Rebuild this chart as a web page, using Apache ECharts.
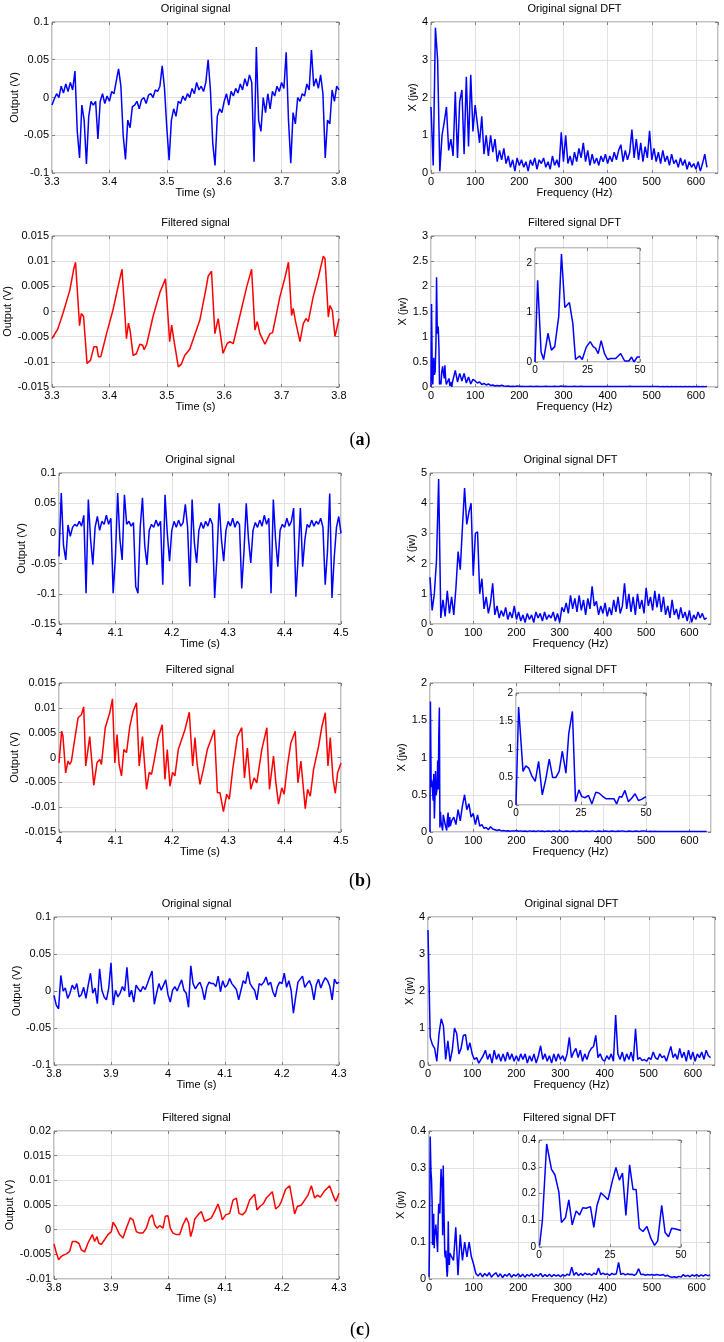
<!DOCTYPE html>
<html>
<head>
<meta charset="utf-8">
<title>Original and filtered signals with DFT</title>
<script src="https://cdn.jsdelivr.net/npm/echarts@6/dist/echarts.min.js"></script>
<style>
html, body { margin: 0; padding: 0; background: #fff; }
#chart { width: 724px; height: 1342px; }
</style>
</head>
<body>
<div id="chart"></div>
<script>
// ---------------- data ----------------
// raw signals: one value every 0.004 s from the first time tick
const sigStep = 0.004;
const tStartA = 3.3, tStartB = 4.0, tStartC = 3.8;

const origA = [
  -0.010,-0.002,0.005,0.000,0.015,0.006,0.018,0.008,0.020,0.010,
  0.035,-0.045,-0.080,-0.010,-0.030,-0.088,-0.025,-0.005,-0.010,-0.005,
  -0.055,-0.005,0.005,-0.008,0.002,-0.005,0.008,0.005,0.022,0.038,
  0.015,-0.050,-0.082,-0.030,-0.040,-0.012,-0.010,-0.005,-0.015,-0.003,
  0.000,-0.008,0.003,0.005,0.000,0.010,0.008,0.015,0.042,0.012,
  -0.040,-0.083,-0.030,-0.015,-0.025,-0.005,-0.008,0.002,-0.004,0.005,
  0.000,0.012,0.005,0.020,0.010,0.015,0.008,0.020,0.050,0.010,
  -0.060,-0.090,-0.025,-0.015,-0.020,-0.005,0.005,-0.010,0.008,0.002,
  0.012,0.006,0.018,0.010,0.025,0.015,0.030,0.020,-0.085,0.067,
  -0.030,-0.045,0.000,-0.020,0.005,-0.015,0.008,0.002,0.015,0.008,
  0.020,0.012,0.060,-0.030,-0.087,-0.020,-0.035,0.000,-0.005,0.005,
  0.002,0.018,0.010,0.063,0.015,0.025,0.012,0.030,0.005,-0.080,
  -0.030,-0.035,0.010,-0.005,0.015,0.010
];

const origB = [
  -0.038,0.067,-0.020,-0.044,0.014,-0.005,0.010,0.015,0.012,0.020,
  0.012,0.030,-0.099,0.056,-0.010,-0.052,0.010,0.028,0.005,0.020,
  0.015,0.030,0.015,0.025,-0.099,-0.040,0.067,-0.010,-0.044,0.064,
  0.015,0.020,0.012,0.018,-0.088,-0.099,0.010,0.059,-0.020,-0.052,
  0.005,0.015,0.010,0.022,0.012,0.020,-0.085,0.064,0.000,-0.046,
  0.005,0.020,0.010,0.022,0.012,0.018,0.048,0.010,-0.088,0.056,
  -0.015,-0.049,0.005,0.018,0.008,0.020,0.012,0.025,0.015,-0.107,
  -0.040,0.050,-0.010,-0.046,0.005,0.020,0.012,0.025,0.010,0.020,
  0.015,-0.091,-0.030,0.050,-0.010,-0.049,0.005,0.018,0.010,0.022,
  0.012,0.030,0.015,0.025,-0.099,0.056,-0.010,-0.055,0.005,0.015,
  0.010,0.025,0.012,0.020,0.042,-0.105,-0.040,0.042,-0.055,-0.010,
  0.015,0.010,0.022,0.012,0.020,0.015,0.025,0.010,-0.085,-0.030,
  0.066,-0.107,-0.040,0.010,0.028,0.000
];

const origC = [
  -0.006,-0.019,-0.024,0.021,0.000,0.004,-0.010,-0.003,0.008,0.002,
  0.010,-0.008,-0.005,0.005,-0.010,0.008,0.024,-0.003,0.004,-0.017,
  0.030,0.001,-0.008,-0.012,0.004,0.038,-0.019,0.001,-0.008,-0.003,
  0.006,0.000,0.032,-0.008,0.001,-0.015,0.008,0.003,-0.001,0.006,
  0.002,0.010,0.019,0.027,-0.018,-0.003,0.010,0.001,0.008,0.015,
  -0.005,-0.015,0.001,0.006,0.000,0.008,0.015,0.001,-0.003,-0.022,
  0.034,0.010,0.003,0.008,0.012,0.003,-0.012,0.005,0.012,0.010,
  0.010,0.006,0.020,-0.001,0.014,0.005,0.008,0.017,0.010,0.006,
  0.002,-0.012,0.001,0.014,0.010,0.026,0.010,0.005,0.001,-0.012,
  0.010,0.008,0.012,0.019,0.008,0.012,-0.001,-0.008,0.006,0.012,
  0.010,0.024,0.005,0.014,0.001,-0.030,-0.008,0.012,0.016,0.020,
  0.005,0.010,0.014,0.006,-0.012,0.008,0.016,0.004,0.012,0.018,
  0.014,0.006,-0.012,0.016,0.010,0.012
];

// filtered signals: [time s, output V]
const filtA = [
  [3.300,-0.0054],[3.310,-0.0035],[3.319,-0.0004],[3.331,0.0042],[3.338,0.0085],[3.341,0.0098],[3.343,0.0096],
  [3.348,-0.0028],[3.351,-0.0004],[3.355,-0.001],[3.361,-0.0103],[3.367,-0.0097],[3.373,-0.007],[3.378,-0.007],
  [3.381,-0.009],[3.385,-0.009],[3.395,-0.0044],[3.406,0.0002],[3.415,0.0049],[3.422,0.0084],[3.425,0.0082],
  [3.4297,-0.0054],[3.4332,-0.0023],[3.436,-0.0037],[3.4413,-0.0087],[3.447,-0.0084],[3.453,-0.0065],[3.458,-0.0067],
  [3.4605,-0.0076],[3.465,-0.0065],[3.476,-0.001],[3.488,0.0038],[3.4977,0.0065],[3.4995,0.0062],[3.505,-0.006],
  [3.5085,-0.0027],[3.512,-0.0054],[3.520,-0.011],[3.5256,-0.0104],[3.5314,-0.0087],[3.540,-0.0075],[3.5576,-0.0017],
  [3.569,0.005],[3.572,0.007],[3.5779,0.008],[3.5837,-0.0044],[3.5895,-0.0014],[3.5924,-0.0037],[3.598,-0.0083],
  [3.605,-0.0064],[3.610,-0.006],[3.6157,-0.0064],[3.627,-0.001],[3.639,0.0048],[3.6477,0.0084],[3.6535,-0.0037],
  [3.6576,-0.002],[3.6622,-0.0044],[3.671,-0.0065],[3.6797,-0.0044],[3.6843,-0.0042],[3.697,0.0029],[3.706,0.0068],
  [3.712,0.0098],[3.7174,-0.0008],[3.7203,0.0006],[3.7238,-0.0017],[3.732,-0.006],[3.7378,-0.0024],[3.7424,-0.0014],
  [3.7465,-0.002],[3.755,0.0029],[3.764,0.0068],[3.7727,0.011],[3.7756,0.0105],[3.7814,-0.0011],[3.7843,0.0012],
  [3.7884,0.0002],[3.793,-0.005],[3.800,-0.0014]
];

const filtB = [
  [4.000,-0.0011],[4.0047,0.0053],[4.007,0.0043],[4.0118,-0.0031],[4.016,-0.0007],[4.019,-0.0014],[4.022,-0.0008],
  [4.026,0.0023],[4.0338,0.008],[4.0397,0.0086],[4.0438,0.0102],[4.0474,-0.0017],[4.0545,0.0042],[4.0616,-0.0056],
  [4.0675,-0.001],[4.0723,-0.0004],[4.0752,-0.0014],[4.082,0.006],[4.09,0.009],[4.0948,0.0118],[4.099,-0.0011],
  [4.103,0.0046],[4.1066,-0.0014],[4.1108,-0.0037],[4.115,0.0016],[4.1197,0.001],[4.1256,0.0063],[4.1315,0.0093],
  [4.1374,0.011],[4.1422,-0.0017],[4.148,0.0042],[4.1552,-0.0064],[4.16,-0.003],[4.164,-0.0034],[4.168,-0.0011],
  [4.176,0.004],[4.183,0.0066],[4.1878,-0.0044],[4.192,0.0016],[4.1967,-0.0058],[4.2014,-0.003],[4.2055,-0.0037],
  [4.2115,0.0016],[4.2233,0.0056],[4.231,0.0091],[4.237,-0.0017],[4.2411,0.004],[4.245,-0.0014],[4.25,-0.0054],
  [4.256,-0.0024],[4.263,0.0016],[4.2707,0.004],[4.2755,0.0056],[4.2808,-0.0071],[4.2855,-0.0071],[4.2915,-0.0109],
  [4.2974,-0.0074],[4.302,-0.0084],[4.308,-0.0024],[4.3163,0.0042],[4.324,0.006],[4.3288,-0.0041],[4.334,0.0019],
  [4.34,-0.0064],[4.346,-0.0041],[4.3507,-0.0051],[4.3596,0.0016],[4.3685,0.006],[4.3732,-0.0064],[4.3803,0.0003],
  [4.3845,-0.005],[4.3892,-0.0094],[4.395,-0.0061],[4.3992,-0.0074],[4.405,-0.0017],[4.411,0.0029],[4.4188,0.0053],
  [4.4236,-0.0051],[4.4289,-0.0007],[4.4366,-0.0103],[4.4408,-0.0064],[4.4455,-0.0078],[4.4514,-0.0024],[4.4603,0.0023],
  [4.4662,0.0063],[4.4721,0.009],[4.4769,-0.0017],[4.481,0.004],[4.4858,-0.0043],[4.4899,-0.0072],[4.4941,-0.003],
  [4.497,-0.0027],[4.5,-0.0011]
];

const filtC = [
  [3.800,-0.0029],[3.8041,-0.0047],[3.8082,-0.0061],[3.8129,-0.0054],[3.8175,-0.0051],[3.822,-0.0049],[3.8275,-0.0044],
  [3.8322,-0.0024],[3.838,-0.0024],[3.8439,-0.0028],[3.848,-0.0041],[3.8538,-0.0045],[3.8596,-0.0027],[3.8673,-0.001],
  [3.8713,-0.0024],[3.8754,-0.0014],[3.8784,-0.0027],[3.883,-0.003],[3.8889,-0.002],[3.8947,-0.001],[3.9006,-0.0004],
  [3.9035,0.0015],[3.9082,0.0007],[3.9152,-0.001],[3.921,-0.0017],[3.9269,0.0003],[3.9339,0.0024],[3.9386,0.002],
  [3.9444,-0.0004],[3.9503,-0.0007],[3.956,-0.0007],[3.962,0.0003],[3.9678,0.0024],[3.9725,0.003],[3.9766,0.001],
  [3.9807,0.0003],[3.9854,0.0008],[3.9912,0.0003],[3.9953,0.0027],[4.000,0.0028],[4.004,0.0003],[4.0088,-0.0007],
  [4.0146,-0.001],[4.0205,-0.001],[4.0263,0.001],[4.0322,0.0024],[4.0363,0.0013],[4.0398,-0.0014],[4.0439,0.0003],
  [4.0468,0.0021],[4.0526,0.003],[4.0585,0.0037],[4.0643,0.0017],[4.0702,0.002],[4.076,0.0024],[4.0819,0.0037],
  [4.0877,0.0052],[4.0918,0.0037],[4.0953,0.002],[4.1012,0.003],[4.1082,0.0033],[4.114,0.006],[4.1199,0.0064],
  [4.1246,0.0033],[4.1304,0.003],[4.1363,0.0037],[4.1433,0.006],[4.152,0.0072],[4.1561,0.004],[4.162,0.0048],
  [4.1667,0.0052],[4.1725,0.0064],[4.183,0.0077],[4.1889,0.0042],[4.1947,0.0048],[4.1988,0.0057],[4.2064,0.0082],
  [4.2135,0.0089],[4.2181,0.006],[4.2222,0.0032],[4.2269,0.0047],[4.2339,0.005],[4.2398,0.006],[4.2456,0.007],
  [4.2515,0.0089],[4.2573,0.0064],[4.262,0.007],[4.2673,0.0066],[4.2749,0.0079],[4.2836,0.0089],[4.2895,0.007],
  [4.2942,0.0057],[4.3,0.0074]
];

// spectra of the raw signals: one value every 5 Hz from 0 Hz
const freqStep = 5;
const dftOrigA = [
  1.75,0.2,3.85,3.0,0.05,1.0,1.35,1.75,0.6,0.9,
  0.45,2.15,0.4,1.9,2.2,0.5,2.55,0.7,2.6,1.1,
  1.8,1.3,0.8,1.5,0.5,1.0,0.45,1.0,0.55,0.9,
  0.3,0.6,0.35,0.65,0.25,0.45,0.15,0.35,0.05,0.4,
  0.2,0.35,0.15,0.3,0.05,0.35,0.2,0.4,0.1,0.35,
  0.25,0.4,0.15,0.3,0.1,0.45,0.2,0.35,0.15,1.08,
  0.3,1.0,0.25,0.45,0.2,0.55,0.3,0.65,0.4,0.8,
  0.3,0.6,0.2,0.5,0.25,0.4,0.2,0.45,0.3,0.5,
  0.25,0.45,0.3,0.55,0.35,0.6,0.75,0.3,0.6,0.35,
  0.55,1.15,0.4,0.9,0.35,0.8,0.3,0.7,0.4,1.12,
  0.35,0.65,0.3,0.55,0.25,0.6,0.3,0.45,0.2,0.5,
  0.25,0.35,0.15,0.4,0.2,0.35,0.1,0.3,0.15,0.25,
  0.1,0.3,0.05,0.25,0.5,0.15
];
const dftOrigB = [
  1.55,0.45,1.0,2.1,4.8,0.2,0.8,0.25,1.1,0.35,
  0.9,0.3,1.2,2.4,1.8,3.2,4.5,3.3,3.7,4.0,
  1.6,3.0,3.05,1.0,1.5,0.5,0.9,0.35,0.7,1.35,
  0.3,0.6,0.2,0.45,0.25,0.55,0.15,0.4,0.2,0.6,
  0.15,0.4,0.1,0.3,0.05,0.35,0.15,0.3,0.05,0.4,
  0.2,0.35,0.1,0.4,0.15,0.3,0.2,0.4,0.1,0.35,
  0.05,0.55,0.4,0.7,0.35,0.95,0.5,0.85,0.4,0.95,
  0.45,0.8,0.3,0.85,0.5,1.25,0.6,0.75,0.3,0.6,
  0.35,0.7,0.25,0.55,0.3,0.8,0.4,0.9,0.35,0.6,
  1.35,0.5,1.0,0.4,0.9,0.3,1.0,0.5,0.8,0.35,
  1.2,0.6,0.9,0.45,1.1,0.55,1.0,0.4,0.9,0.3,
  0.6,0.2,0.8,0.3,0.5,0.15,0.55,0.2,0.4,0.1,
  0.45,0.05,0.3,0.15,0.4,0.2,0.35,0.15,0.2
];
const dftOrigC = [
  3.65,0.75,0.55,0.45,0.1,0.85,1.25,1.05,0.15,0.65,
  0.1,0.4,1.0,0.85,0.3,0.45,0.8,0.82,0.4,0.6,
  0.3,0.15,0.2,0.05,0.15,0.25,0.4,0.15,0.3,0.05,
  0.4,0.15,0.3,0.1,0.3,0.1,0.35,0.15,0.3,0.1,
  0.25,0.1,0.3,0.15,0.3,0.05,0.25,0.1,0.3,0.05,
  0.25,0.52,0.15,0.3,0.1,0.25,0.05,0.3,0.1,0.3,
  0.15,0.25,0.1,0.3,0.75,0.2,0.35,0.45,0.2,0.4,
  0.1,0.3,0.15,0.35,0.45,0.5,0.8,0.2,0.3,0.15,
  0.1,0.25,0.15,0.3,0.1,1.35,0.3,0.15,0.35,0.1,
  0.3,0.15,0.35,0.1,0.98,0.15,0.2,0.12,0.15,0.1,
  0.2,0.15,0.35,0.2,0.15,0.3,0.2,0.25,0.1,0.3,
  0.5,0.2,0.3,0.15,0.45,0.2,0.35,0.1,0.4,0.15,
  0.35,0.1,0.3,0.2,0.35,0.15,0.4,0.25,0.2
];

// spectra of the filtered signals, 0-50 Hz: [Hz, |X|]
const lowFiltA = [
  [0,0],[1.25,1.65],[2.9,0.2],[4.1,0.05],[6.2,0.58],[7.8,0.24],[9.4,0.31],[11.3,0.92],[12.6,2.18],[14.2,1.1],
  [15.1,1.06],[16.4,1.2],[18,0.78],[19.3,0.05],[21.2,0.12],[22.5,0.05],[24.4,0.3],[26.3,0.41],[27.7,0.31],
  [28.8,0.28],[30.1,0.17],[31.5,0.43],[33.1,0.17],[34.6,0.05],[36,0.07],[38.4,0.07],[40.8,0.17],[42.7,0.02],
  [44.7,0.02],[46,0.1],[47.1,0.0],[48.7,0.1],[50,0.1]
];
const lowFiltB = [
  [0,0],[1.0,1.75],[2.7,0.6],[3.8,0.7],[4.9,0.66],[6.1,0.52],[7.4,0.42],[8.7,0.78],[10.1,0.18],[11.4,0.45],
  [12.8,0.82],[14.1,0.49],[15.3,0.49],[16.6,0.6],[17.8,0.96],[19.2,0.57],[20.3,1.28],[21.7,1.67],[22.9,0.06],
  [24.2,0.27],[25.3,0.15],[26.6,0.13],[27.9,0.17],[29.2,0.02],[30.7,0.23],[32,0.21],[33.2,0.16],[34.7,0.11],
  [36.2,0.11],[37.7,0.11],[38.7,0.02],[39.8,0.15],[40.7,0.14],[41.9,0.26],[43.2,0.06],[44.5,0.12],[45.8,0.2],
  [47.1,0.08],[48.3,0.1],[50,0.15]
];
const lowFiltC = [
  [0.2,0.006],[1.2,0.1],[2.7,0.385],[4.4,0.29],[5.6,0.27],[7.0,0.205],[7.9,0.092],[9.3,0.109],[10.5,0.176],
  [11.7,0.083],[13.1,0.135],[14.3,0.12],[15.4,0.147],[16.6,0.145],[18.1,0.151],[19.3,0.073],[20.4,0.154],
  [21.8,0.203],[23.1,0.19],[24.3,0.177],[25.9,0.25],[27.1,0.297],[28.3,0.25],[29.4,0.276],[30.6,0.118],
  [31.9,0.307],[33.1,0.215],[34.2,0.215],[35.3,0.07],[36.6,0.058],[38,0.077],[39.4,0.032],[40.7,0.006],
  [41.8,0.023],[43.2,0.156],[44.4,0.054],[45.6,0.038],[46.7,0.07],[48.1,0.067],[50,0.062]
];

// the rest of those spectra: one value every 5 Hz from 55 Hz
const tailStart = 55;
const highFiltA = [
  0.33,0.1,0.27,0.12,0.27,0.08,0.2,0.06,0.15,0.12,
  0.08,0.1,0.05,0.07,0.04,0.06,0.03,0.04,0.02,0.03,
  0.02,0.035,0.02,0.015,0.02,0.01,0.015,0.01,0.02,0.01,
  0.015,0.01,0.012,0.008,0.015,0.01,0.012,0.015,0.01,0.012,
  0.008,0.015,0.01,0.012,0.008,0.015,0.01,0.012,0.02,0.01,
  0.015,0.008,0.012,0.01,0.015,0.008,0.012,0.015,0.01,0.012,
  0.008,0.01,0.012,0.008,0.01,0.012,0.008,0.01,0.012,0.008,
  0.01,0.012,0.008,0.01,0.012,0.01,0.008,0.012,0.01,0.015,
  0.01,0.012,0.008,0.01,0.012,0.008,0.01,0.008,0.012,0.008,
  0.01,0.008,0.01,0.006,0.008,0.006,0.008,0.006,0.008,0.006,
  0.008,0.006,0.008,0.006,0.008,0.006,0.008,0.006,0.008,0.006,
  0.008,0.006,0.008,0.006,0.008
];
const highFiltB = [
  0.2,0.1,0.3,0.15,0.35,0.5,0.3,0.38,0.2,0.25,
  0.1,0.23,0.08,0.1,0.05,0.06,0.03,0.07,0.04,0.03,
  0.02,0.03,0.015,0.02,0.012,0.018,0.01,0.015,0.012,0.02,
  0.01,0.015,0.01,0.012,0.008,0.015,0.01,0.012,0.008,0.015,
  0.01,0.012,0.008,0.01,0.012,0.008,0.012,0.01,0.008,0.015,
  0.01,0.008,0.012,0.01,0.008,0.012,0.01,0.008,0.012,0.01,
  0.008,0.012,0.01,0.008,0.015,0.01,0.008,0.012,0.01,0.008,
  0.012,0.01,0.008,0.012,0.01,0.008,0.012,0.01,0.015,0.01,
  0.008,0.012,0.01,0.008,0.012,0.01,0.008,0.012,0.015,0.01,
  0.008,0.01,0.008,0.01,0.006,0.008,0.006,0.008,0.006,0.008,
  0.006,0.008,0.006,0.008,0.006,0.008,0.006,0.008,0.006,0.008,
  0.006,0.008,0.006,0.008,0.006,0.008,0.006,0.008
];
const highFiltC = [
  0.05,0.14,0.01,0.12,0.05,0.1,0.06,0.1,0.06,0.04,
  0.015,0.008,0.016,0.006,0.015,0.008,0.017,0.005,0.012,0.017,
  0.006,0.014,0.004,0.012,0.008,0.015,0.005,0.012,0.008,0.014,
  0.006,0.013,0.005,0.012,0.008,0.014,0.006,0.012,0.008,0.015,
  0.006,0.012,0.007,0.013,0.006,0.012,0.008,0.011,0.006,0.012,
  0.008,0.013,0.01,0.032,0.01,0.018,0.009,0.015,0.01,0.016,
  0.012,0.014,0.01,0.016,0.012,0.03,0.012,0.016,0.012,0.014,
  0.01,0.015,0.012,0.014,0.045,0.012,0.015,0.011,0.014,0.012,
  0.013,0.01,0.014,0.028,0.012,0.013,0.01,0.012,0.011,0.012,
  0.01,0.012,0.011,0.01,0.012,0.008,0.01,0.006,0.005,0.006,
  0.004,0.007,0.005,0.012,0.007,0.01,0.006,0.011,0.008,0.012,
  0.007,0.011,0.008,0.012,0.009,0.011
];

// ---------------- drawing ----------------
const FONT = '"Liberation Sans", Arial, Helvetica, sans-serif';
const SERIF = '"Liberation Serif", "DejaVu Serif", serif';
const BOX = '#808080';
const GRID_LINE = '#e2e2e2';
const BLUE = '#0000ff';
const RED = '#ff0000';

function onSteps(start, step, vals) {
  return vals.map((v, i) => [+(start + i * step).toFixed(4), v]);
}

let grids = [], xAxes = [], yAxes = [], series = [], texts = [];

function addPanel(p) {
  const k = grids.length;
  const z = p.inset ? 6 : 0;
  const fs = p.inset ? 10 : 11;
  grids.push({
    left: p.box[0], top: p.box[1], width: p.box[2], height: p.box[3],
    show: true, backgroundColor: '#fff', borderColor: BOX, borderWidth: 1, z: z
  });
  const base = {
    gridIndex: k, type: 'value', z: z,
    axisLine: { show: false, onZero: false },
    axisTick: { show: true, inside: true, length: 3, lineStyle: { color: BOX } },
    splitLine: { show: true, lineStyle: { color: GRID_LINE, width: 1 } },
    nameLocation: 'middle',
    nameTextStyle: { fontFamily: FONT, fontSize: 11, color: '#000' }
  };
  // ticks only, on the top and right edges (box style)
  const mirror = {
    gridIndex: k, type: 'value', z: z,
    axisLine: { show: false, onZero: false },
    axisTick: { show: true, inside: true, length: 3, lineStyle: { color: BOX } },
    axisLabel: { show: false },
    splitLine: { show: false }
  };
  const xi = xAxes.length, yi = yAxes.length;
  xAxes.push(Object.assign({}, base, {
    min: p.x[0], max: p.x[1], interval: p.x[2], position: 'bottom',
    name: p.xName || '', nameGap: 14,
    axisLabel: { margin: 3, fontFamily: FONT, fontSize: fs, color: '#000', showMaxLabel: !p.xCut }
  }));
  xAxes.push(Object.assign({}, mirror, { min: p.x[0], max: p.x[1], interval: p.x[2], position: 'top' }));
  yAxes.push(Object.assign({}, base, {
    min: p.y[0], max: p.y[1], interval: p.y[2], position: 'left',
    name: p.yName || '', nameGap: p.yGap || 0,
    axisLabel: { margin: 3, fontFamily: FONT, fontSize: fs, color: '#000', showMaxLabel: !p.yCut }
  }));
  yAxes.push(Object.assign({}, mirror, { min: p.y[0], max: p.y[1], interval: p.y[2], position: 'right' }));
  series.push({
    type: 'line', xAxisIndex: xi, yAxisIndex: yi, data: p.data,
    symbol: 'none', silent: true, animation: false, z: z + 2,
    lineStyle: { color: p.color, width: 1.5 }, itemStyle: { color: p.color }
  });
  if (p.title) {
    texts.push({
      type: 'text', x: p.box[0] + p.box[2] / 2, y: p.box[1] - 13,
      style: { text: p.title, fontFamily: FONT, fontSize: 11, fill: '#000',
               align: 'center', verticalAlign: 'middle', textAlign: 'center', textVerticalAlign: 'middle' }
    });
  }
}

function addLetter(letter, x, y) {
  texts.push({
    type: 'text', x: x, y: y,
    style: {
      text: '{p|(}{b|' + letter + '}{p|)}',
      rich: {
        p: { fontFamily: SERIF, fontSize: 18, fill: '#000' },
        b: { fontFamily: SERIF, fontSize: 18, fontWeight: 'bold', fill: '#000' }
      },
      align: 'center', verticalAlign: 'middle', textAlign: 'center', textVerticalAlign: 'middle'
    }
  });
}

// (a)
addPanel({ box: [52, 22, 287, 151], x: [3.3, 3.8, 0.1], y: [-0.1, 0.1, 0.05], xName: 'Time (s)', yName: 'Output (V)', yGap: 31,
  color: BLUE, title: 'Original signal', data: onSteps(tStartA, sigStep, origA) });
addPanel({ box: [431, 22, 287, 151], x: [0, 650, 100], xCut: true, y: [0, 4, 1], xName: 'Frequency (Hz)', yName: 'X (jw)', yGap: 11,
  color: BLUE, title: 'Original signal DFT', data: onSteps(0, freqStep, dftOrigA) });
addPanel({ box: [52, 236, 287, 151], x: [3.3, 3.8, 0.1], y: [-0.015, 0.015, 0.005], xName: 'Time (s)', yName: 'Output (V)', yGap: 36,
  color: RED, title: 'Filtered signal', data: filtA });
addPanel({ box: [431, 236, 287, 151], x: [0, 650, 100], xCut: true, y: [0, 3, 0.5], xName: 'Frequency (Hz)', yName: 'X (jw)', yGap: 20,
  color: BLUE, title: 'Filtered signal DFT', data: lowFiltA.concat(onSteps(tailStart, freqStep, highFiltA)) });
addPanel({ box: [535, 248, 105, 114], inset: true, x: [0, 50, 25], y: [0, 2.3, 1], yCut: true, color: BLUE, data: lowFiltA });

// (b)
addPanel({ box: [59, 473, 282, 151], x: [4, 4.5, 0.1], y: [-0.15, 0.1, 0.05], xName: 'Time (s)', yName: 'Output (V)', yGap: 30,
  color: BLUE, title: 'Original signal', data: onSteps(tStartB, sigStep, origB) });
addPanel({ box: [430, 473, 281, 151], x: [0, 650, 100], xCut: true, y: [0, 5, 1], xName: 'Frequency (Hz)', yName: 'X (jw)', yGap: 12,
  color: BLUE, title: 'Original signal DFT', data: onSteps(0, freqStep, dftOrigB) });
addPanel({ box: [59, 683, 282, 149], x: [4, 4.5, 0.1], y: [-0.015, 0.015, 0.005], xName: 'Time (s)', yName: 'Output (V)', yGap: 36,
  color: RED, title: 'Filtered signal', data: filtB });
addPanel({ box: [430, 683, 281, 149], x: [0, 650, 100], xCut: true, y: [0, 2, 0.5], xName: 'Frequency (Hz)', yName: 'X (jw)', yGap: 20,
  color: BLUE, title: 'Filtered signal DFT', data: lowFiltB.concat(onSteps(tailStart, freqStep, highFiltB)) });
addPanel({ box: [516, 693, 130, 112], inset: true, x: [0, 50, 25], y: [0, 2, 0.5], color: BLUE, data: lowFiltB });

// (c)
addPanel({ box: [54, 917, 285, 148], x: [3.8, 4.3, 0.1], y: [-0.1, 0.1, 0.05], xName: 'Time (s)', yName: 'Output (V)', yGap: 30,
  color: BLUE, title: 'Original signal', data: onSteps(tStartC, sigStep, origC) });
addPanel({ box: [428, 917, 287, 148], x: [0, 650, 100], xCut: true, y: [0, 4, 1], xName: 'Frequency (Hz)', yName: 'X (jw)', yGap: 11,
  color: BLUE, title: 'Original signal DFT', data: onSteps(0, freqStep, dftOrigC) });
addPanel({ box: [54, 1131, 285, 148], x: [3.8, 4.3, 0.1], y: [-0.01, 0.02, 0.005], xName: 'Time (s)', yName: 'Output (V)', yGap: 36,
  color: RED, title: 'Filtered signal', data: filtC });
addPanel({ box: [429, 1131, 281, 148], x: [0, 630, 100], xCut: true, y: [0, 0.4, 0.1], xName: 'Frequency (Hz)', yName: 'X (jw)', yGap: 20,
  color: BLUE, title: 'Filtered signal DFT', data: lowFiltC.concat(onSteps(tailStart, freqStep, highFiltC)) });
addPanel({ box: [539, 1140, 142, 107], inset: true, x: [0, 50, 25], y: [0, 0.4, 0.1], color: BLUE, data: lowFiltC });

addLetter('a', 360, 440);
addLetter('b', 360, 881);
addLetter('c', 360, 1330);

let option = {
  backgroundColor: '#fff',
  animation: false,
  textStyle: { fontFamily: FONT },
  grid: grids,
  xAxis: xAxes,
  yAxis: yAxes,
  series: series,
  graphic: { elements: texts }
};

let myChart = echarts.init(document.getElementById('chart'), null, { renderer: 'canvas' });
myChart.setOption(option);

window.addEventListener('resize', function () {
  myChart.resize();
}, false);
</script>
</body>
</html>
